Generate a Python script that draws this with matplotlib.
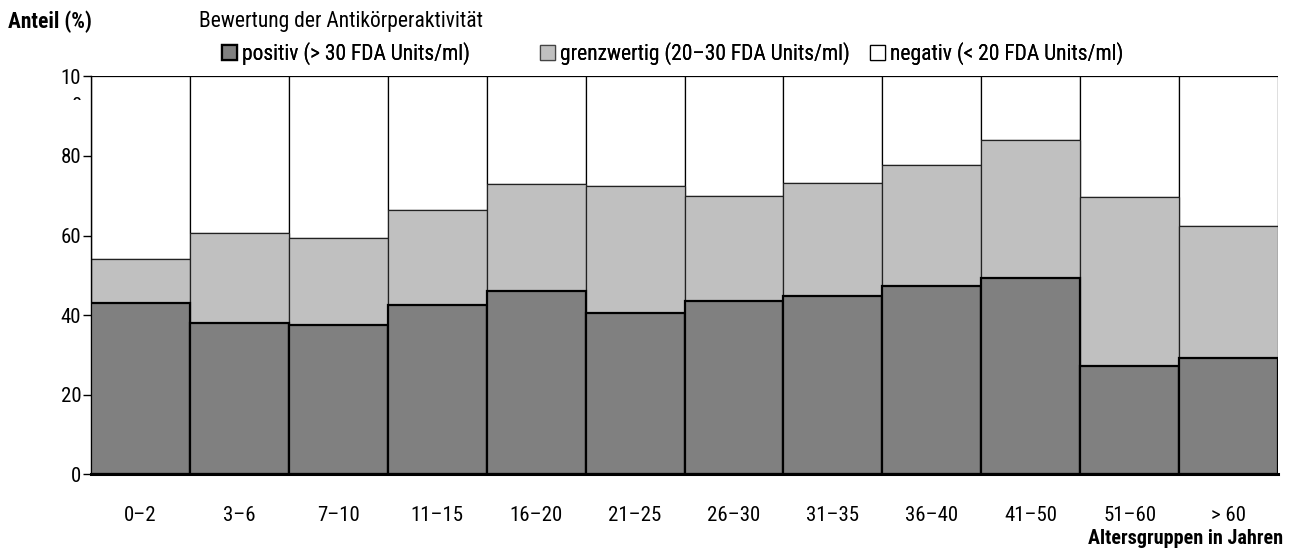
import matplotlib
matplotlib.use('Agg')
import matplotlib.pyplot as plt
import matplotlib.patches as mpatches
from matplotlib.transforms import Bbox, TransformedBbox
import numpy as np

plt.rcParams['font.family'] = ['Roboto Condensed', 'Liberation Sans']

# ── data ─────────────────────────────────────────────────────────────────────
age_groups = ['0–2', '3–6', '7–10', '11–15', '16–20', '21–25',
              '26–30', '31–35', '36–40', '41–50', '51–60', '> 60']
positiv     = [43.0, 38.1, 37.5, 42.6, 46.1, 40.6, 43.6, 44.7, 47.3, 49.2, 27.2, 29.3]
grenzwertig = [11.1, 22.6, 21.8, 23.7, 26.8, 31.8, 26.3, 28.4, 30.3, 34.7, 42.4, 33.1]
negativ     = [45.9, 39.3, 40.7, 33.7, 27.1, 27.6, 30.1, 26.9, 22.4, 16.1, 30.4, 37.6]
y_ticks = [0, 20, 40, 60, 80, 100]
y_tick_labels = ['0', '20', '40', '60', '80', '10']

FS = 15

# ── figure ───────────────────────────────────────────────────────────────────
fig = plt.figure(figsize=(12.98, 5.51), dpi=100)
ax = fig.add_axes([0.0701, 0.1392, 0.9145, 0.7223])

x = np.arange(len(age_groups))
pos = np.array(positiv)
grz = np.array(grenzwertig)
neg = np.array(negativ)

ax.bar(x, neg, width=1.0, bottom=pos + grz, color='white',
       edgecolor='black', linewidth=0.9, zorder=2)
ax.bar(x, grz, width=1.0, bottom=pos, color='#c0c0c0',
       edgecolor='#222222', linewidth=0.9, zorder=2)
ax.bar(x, pos, width=1.0, color='#808080',
       edgecolor='black', linewidth=1.6, zorder=3)

ax.set_xlim(-0.5, len(age_groups) - 0.5)
ax.set_ylim(0, 100)

ax.set_yticks(y_ticks)
ax.set_yticklabels(y_tick_labels)
ax.set_xticks(x)
ax.set_xticklabels(age_groups)
ax.tick_params(axis='y', direction='out', length=6, width=1, pad=1,
               labelsize=FS, colors='black')
ax.tick_params(axis='x', length=0, pad=23, labelsize=FS)

for s in ['top', 'right']:
    ax.spines[s].set_visible(False)
ax.spines['left'].set_linewidth(1)
ax.spines['bottom'].set_linewidth(2.2)
ax.spines['bottom'].set_zorder(5)

# clipped second line of the "100" tick label
t0 = fig.text(77 / 1298, 1 - 107 / 551, '0', fontsize=FS,
              ha='center', va='center')
t0.set_clip_box(TransformedBbox(Bbox([[70 / 1298, 1 - 100 / 551],
                                      [85 / 1298, 1 - 96 / 551]]),
                                fig.transFigure))

# ── texts ────────────────────────────────────────────────────────────────────
fig.text(8 / 1298, 1 - 22 / 551, 'Anteil (%)', fontsize=FS + 0.5,
         fontweight='bold', ha='left', va='center')
fig.text(199 / 1298, 1 - 22 / 551, 'Bewertung der Antikörperaktivität',
         fontsize=FS + 0.5, ha='left', va='center')
fig.text(1283 / 1298, 1 - 539 / 551, 'Altersgruppen in Jahren',
         fontsize=FS - 0.5, fontweight='bold', ha='right', va='center')

# ── legend (one entry each, placed along the top row) ────────────────────────
handles = [
    mpatches.Patch(facecolor='#808080', edgecolor='black', linewidth=1.6),
    mpatches.Patch(facecolor='#c0c0c0', edgecolor='#444444', linewidth=0.9),
    mpatches.Patch(facecolor='white', edgecolor='black', linewidth=0.9),
]
labels = ['positiv (> 30 FDA Units/ml)',
          'grenzwertig (20–30 FDA Units/ml)',
          'negativ (< 20 FDA Units/ml)']
legend_x = [222, 540, 870]
for h, lab, lx in zip(handles, labels, legend_x):
    lg = fig.legend([h], [lab], loc='center left',
                    bbox_to_anchor=(lx / 1298, 1 - 54 / 551), frameon=False,
                    fontsize=FS + 0.5, handlelength=0.7, handleheight=0.7,
                    handletextpad=0.25, borderpad=0, borderaxespad=0)
    fig.add_artist(lg)

fig.savefig('out.png', dpi=100)
